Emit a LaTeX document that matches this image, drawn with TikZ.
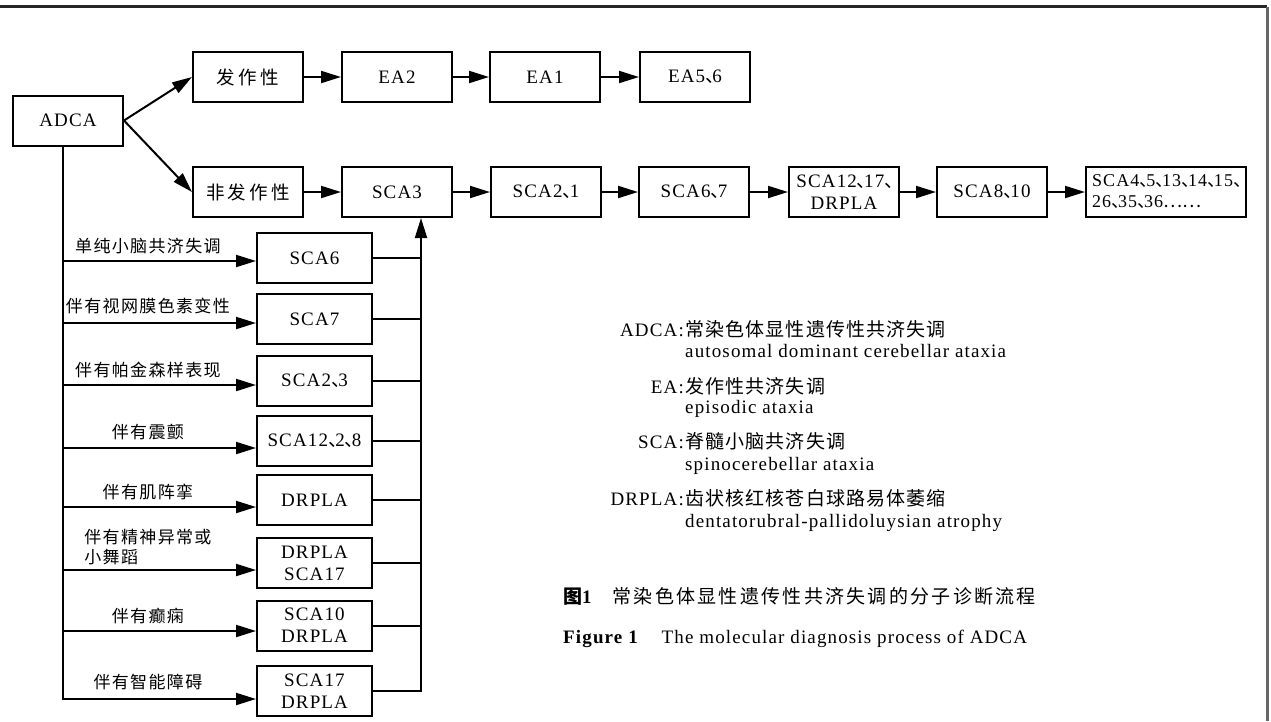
\documentclass[tikz,border=0pt]{standalone}
\usepackage{fontspec}
\setmainfont{Liberation Serif}[LetterSpace=6]
\newfontfamily\cjk{Noto Sans CJK SC}[LetterSpace=8]
\newfontfamily\cjkb{Noto Sans CJK SC}[LetterSpace=18]
\newfontfamily\cjkl{Noto Sans CJK SC}[LetterSpace=6]
\newfontfamily\cjkc{Noto Sans CJK SC}[LetterSpace=12]
\newfontfamily\cjkp{Noto Sans CJK SC}
\newcommand{\dun}{{\cjkp 、}\kern-.62em}
\usetikzlibrary{positioning,arrows.meta}

\begin{document}
\begin{tikzpicture}[
    x=1pt, y=-1pt,
    font=\fontsize{19}{22}\selectfont,
    box/.style={draw, line width=2pt, minimum width=110pt, minimum height=50pt,
                align=center, inner sep=2pt, fill=white},
    sub/.style={box, minimum width=115pt},
    arr/.style={-{Triangle[length=20pt, width=12pt]}, line width=2pt},
    conn/.style={line width=2pt},
    lbl/.style={font=\fontsize{17}{20}\selectfont\cjk, inner sep=1pt, align=left, above=5pt},
    abbr/.style={anchor=base east, inner sep=0pt},
    expl/.style={anchor=base west, inner sep=0pt},
    captxt/.style={anchor=base west, inner sep=0pt}
  ]

  \useasboundingbox[fill=white] (0,0) rectangle (1271,721);
  \draw[line width=3pt, draw=black!85] (0,6.5) -- (1267,6.5);
  \draw[line width=3pt, draw=black!60] (1267,6.5) -- (1267,721);

  % main rows
  \node[box] (adca)    at (  68,120.5) {ADCA};
  \node[box] (fz)      at ( 248, 77) {\cjkb\fontsize{18.5}{22}\selectfont 发作性};
  \node[box] (ea2)     at ( 397, 77) {EA2};
  \node[box] (ea1)     at ( 545, 77) {EA1};
  \node[box] (ea56)    at ( 695, 77) {EA5\dun 6};
  \node[box] (ffz)     at ( 248,192) {\cjkb\fontsize{18.5}{22}\selectfont 非发作性};
  \node[box] (sca3)    at ( 397,192) {SCA3};
  \node[box] (sca21)   at ( 546,192) {SCA2\dun 1};
  \node[box] (sca67)   at ( 694,192) {SCA6\dun 7};
  \node[box] (sca1217) at ( 844,192) {SCA12\dun 17\dun\\DRPLA};
  \node[box] (sca810)  at ( 992,192) {SCA8\dun 10};
  \node[box, minimum width=160pt, align=left, inner sep=1pt,
        font=\fontsize{18}{21}\selectfont] (sca4) at (1166,192)
    {SCA4\dun 5\dun 13\dun 14\dun 15\dun\\26\dun 35\dun 36{\cjkp ……}};

  \draw[arr] (adca.east) -- (fz.west);
  \draw[arr] (adca.east) -- (ffz.west);
  \draw[arr] (fz)      -- (ea2);
  \draw[arr] (ea2)     -- (ea1);
  \draw[arr] (ea1)     -- (ea56);
  \draw[arr] (ffz)     -- (sca3);
  \draw[arr] (sca3)    -- (sca21);
  \draw[arr] (sca21)   -- (sca67);
  \draw[arr] (sca67)   -- (sca1217);
  \draw[arr] (sca1217) -- (sca810);
  \draw[arr] (sca810)  -- (sca4);

  % symptom branches
  \node[sub] (s1) at (314.5,258)   {SCA6};
  \node[sub] (s2) at (314.5,319)   {SCA7};
  \node[sub] (s3) at (314.5,380.5) {SCA2\dun 3};
  \node[sub] (s4) at (314.5,441)   {SCA12\dun 2\dun 8};
  \node[sub] (s5) at (314.5,500)   {DRPLA};
  \node[sub] (s6) at (314.5,563)   {DRPLA\\SCA17};
  \node[sub] (s7) at (314.5,625.5) {SCA10\\DRPLA};
  \node[sub] (s8) at (314.5,691)   {SCA17\\DRPLA};

  \coordinate (trunk) at ([xshift=-5pt]adca.south);
  \coordinate (in1) at ([yshift=-3pt]s1.west);
  \coordinate (in2) at ([yshift=-4pt]s2.west);
  \coordinate (in3) at ([yshift=-4.5pt]s3.west);
  \coordinate (in4) at ([yshift=-7pt]s4.west);
  \coordinate (in5) at ([yshift=-7pt]s5.west);
  \coordinate (in6) at ([yshift=-7pt]s6.west);
  \coordinate (in7) at ([yshift=-5.5pt]s7.west);
  \coordinate (in8) at ([yshift=-8pt]s8.west);

  \draw[arr] (trunk) |- node[lbl, pos=0.72, above=7pt] {伴有智能障碍} (in8);
  \draw[arr] (trunk |- in1) -- node[lbl, pos=0.44] {单纯小脑共济失调} (in1);
  \draw[arr] (trunk |- in2) -- node[lbl, pos=0.44, above=7pt] {伴有视网膜色素变性} (in2);
  \draw[arr] (trunk |- in3) -- node[lbl, pos=0.44] {伴有帕金森样表现} (in3);
  \draw[arr] (trunk |- in4) -- node[lbl, pos=0.44, above=6pt] {伴有震颤} (in4);
  \draw[arr] (trunk |- in5) -- node[lbl, pos=0.44] {伴有肌阵挛} (in5);
  \draw[arr] (trunk |- in6) -- node[lbl, pos=0.44, above=3pt] {伴有精神异常或\\小舞蹈} (in6);
  \draw[arr] (trunk |- in7) -- node[lbl, pos=0.44] {伴有癫痫} (in7);

  \coordinate (bus) at ([xshift=24pt]sca3.south);
  \draw[conn] (s1.east) -- (s1.east -| bus);
  \draw[conn] (s2.east) -- (s2.east -| bus);
  \draw[conn] (s3.east) -- (s3.east -| bus);
  \draw[conn] (s4.east) -- (s4.east -| bus);
  \draw[conn] (s5.east) -- (s5.east -| bus);
  \draw[conn] (s6.east) -- (s6.east -| bus);
  \draw[conn] (s7.east) -- (s7.east -| bus);
  \draw[arr]  (s8.east) -| (bus);

  % legend
  \node[abbr] (kadca)  at (684,336) {ADCA:};
  \node[expl] (zadca)  at (685,336) {\cjkl 常染色体显性遗传性共济失调};
  \node[expl] (eadca)  at (685,357) {autosomal dominant cerebellar ataxia};
  \node[abbr] (kea)    at (684,393) {EA:};
  \node[expl] (zea)    at (685,393) {\cjkl 发作性共济失调};
  \node[expl] (eea)    at (685,413) {episodic ataxia};
  \node[abbr] (ksca)   at (684,448) {SCA:};
  \node[expl] (zsca)   at (685,448) {\cjkl 脊髓小脑共济失调};
  \node[expl] (esca)   at (685,470) {spinocerebellar ataxia};
  \node[abbr] (kdrpla) at (684,505) {DRPLA:};
  \node[expl] (zdrpla) at (685,505) {\cjkl 齿状核红核苍白球路易体萎缩};
  \node[expl] (edrpla) at (685,527) {dentatorubral-pallidoluysian atrophy};

  \node[captxt] (capzh) at (563,603)
    {\bfseries{\cjkc 图}1\hspace{1.1em}\mdseries{\cjkc 常染色体显性遗传性共济失调的分子诊断流程}};
  \node[captxt] (capen) at (563,643)
    {\textbf{Figure 1}\hspace{1.2em}The molecular diagnosis process of ADCA};
\end{tikzpicture}
\end{document}
